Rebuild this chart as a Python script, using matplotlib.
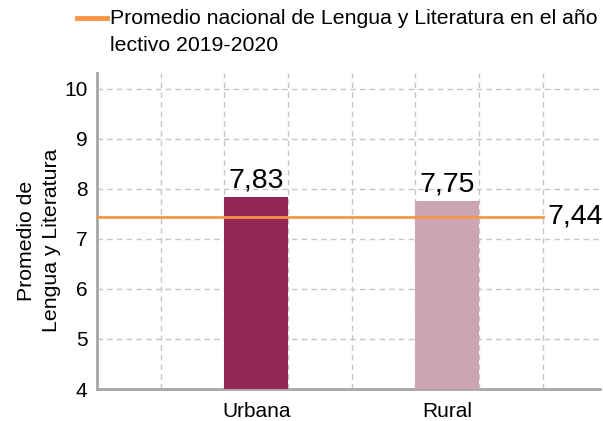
import matplotlib.pyplot as plt
from matplotlib.lines import Line2D

plt.rcParams['font.family'] = ['Liberation Sans', 'DejaVu Sans']

categories = ['Urbana', 'Rural']
values = [7.83, 7.75]
labels = ['7,83', '7,75']
national_avg = 7.44
national_label = '7,44'
legend_text = 'Promedio nacional de Lengua y Literatura en el año\nlectivo 2019-2020'

bar_colors = ['#922756', '#cda4b4']
line_color = '#f79646'
grid_color = '#c6c6c6'
spine_color = '#a6a6a6'

fig = plt.figure(figsize=(6.03, 4.21), dpi=100)
ax = fig.add_axes([0.161, 0.076, 0.834, 0.751])

# bars sit in the 3rd and 6th of the dashed columns
xpos = [2.5, 5.5]
ax.bar(xpos, values, width=1.0, color=bar_colors, zorder=3)
for x, v, t in zip(xpos, values, labels):
    ax.text(x, v + 0.08, t, ha='center', va='bottom', fontsize=20.5, zorder=4)

ax.plot([0, 7], [national_avg, national_avg], color=line_color, lw=2, zorder=4)
ax.text(7.08, national_avg, national_label, ha='left', va='center', fontsize=20.5)

ax.set_xlim(0, 7.9)
ax.set_ylim(4, 10.32)
ax.set_yticks(range(4, 11))
ax.set_xticks(xpos)
ax.set_xticklabels(categories)
ax.tick_params(axis='y', length=0, labelsize=15, pad=7)
ax.tick_params(axis='x', length=0, labelsize=15, pad=9)

for x in range(1, 8):
    ax.axvline(x, color=grid_color, lw=1, ls=(0, (4, 3)), zorder=1)
for y in range(5, 11):
    ax.axhline(y, color=grid_color, lw=1, ls=(0, (4, 3)), zorder=1)

for s in ['top', 'right']:
    ax.spines[s].set_visible(False)
for s in ['left', 'bottom']:
    ax.spines[s].set_color(spine_color)
    ax.spines[s].set_linewidth(2)

ax.set_ylabel('Promedio de\nLengua y Literatura', fontsize=15.3, linespacing=1.4)
ax.yaxis.set_label_coords(-0.072, 0.47)

# legend drawn by hand so the key lines up with the first text line
fig.add_artist(Line2D([0.127, 0.177], [0.957, 0.957], color=line_color, lw=3.5,
                      transform=fig.transFigure))
fig.text(0.182, 0.978, legend_text, ha='left', va='top', fontsize=15.3, linespacing=1.5)

fig.savefig('out.png', dpi=100)
